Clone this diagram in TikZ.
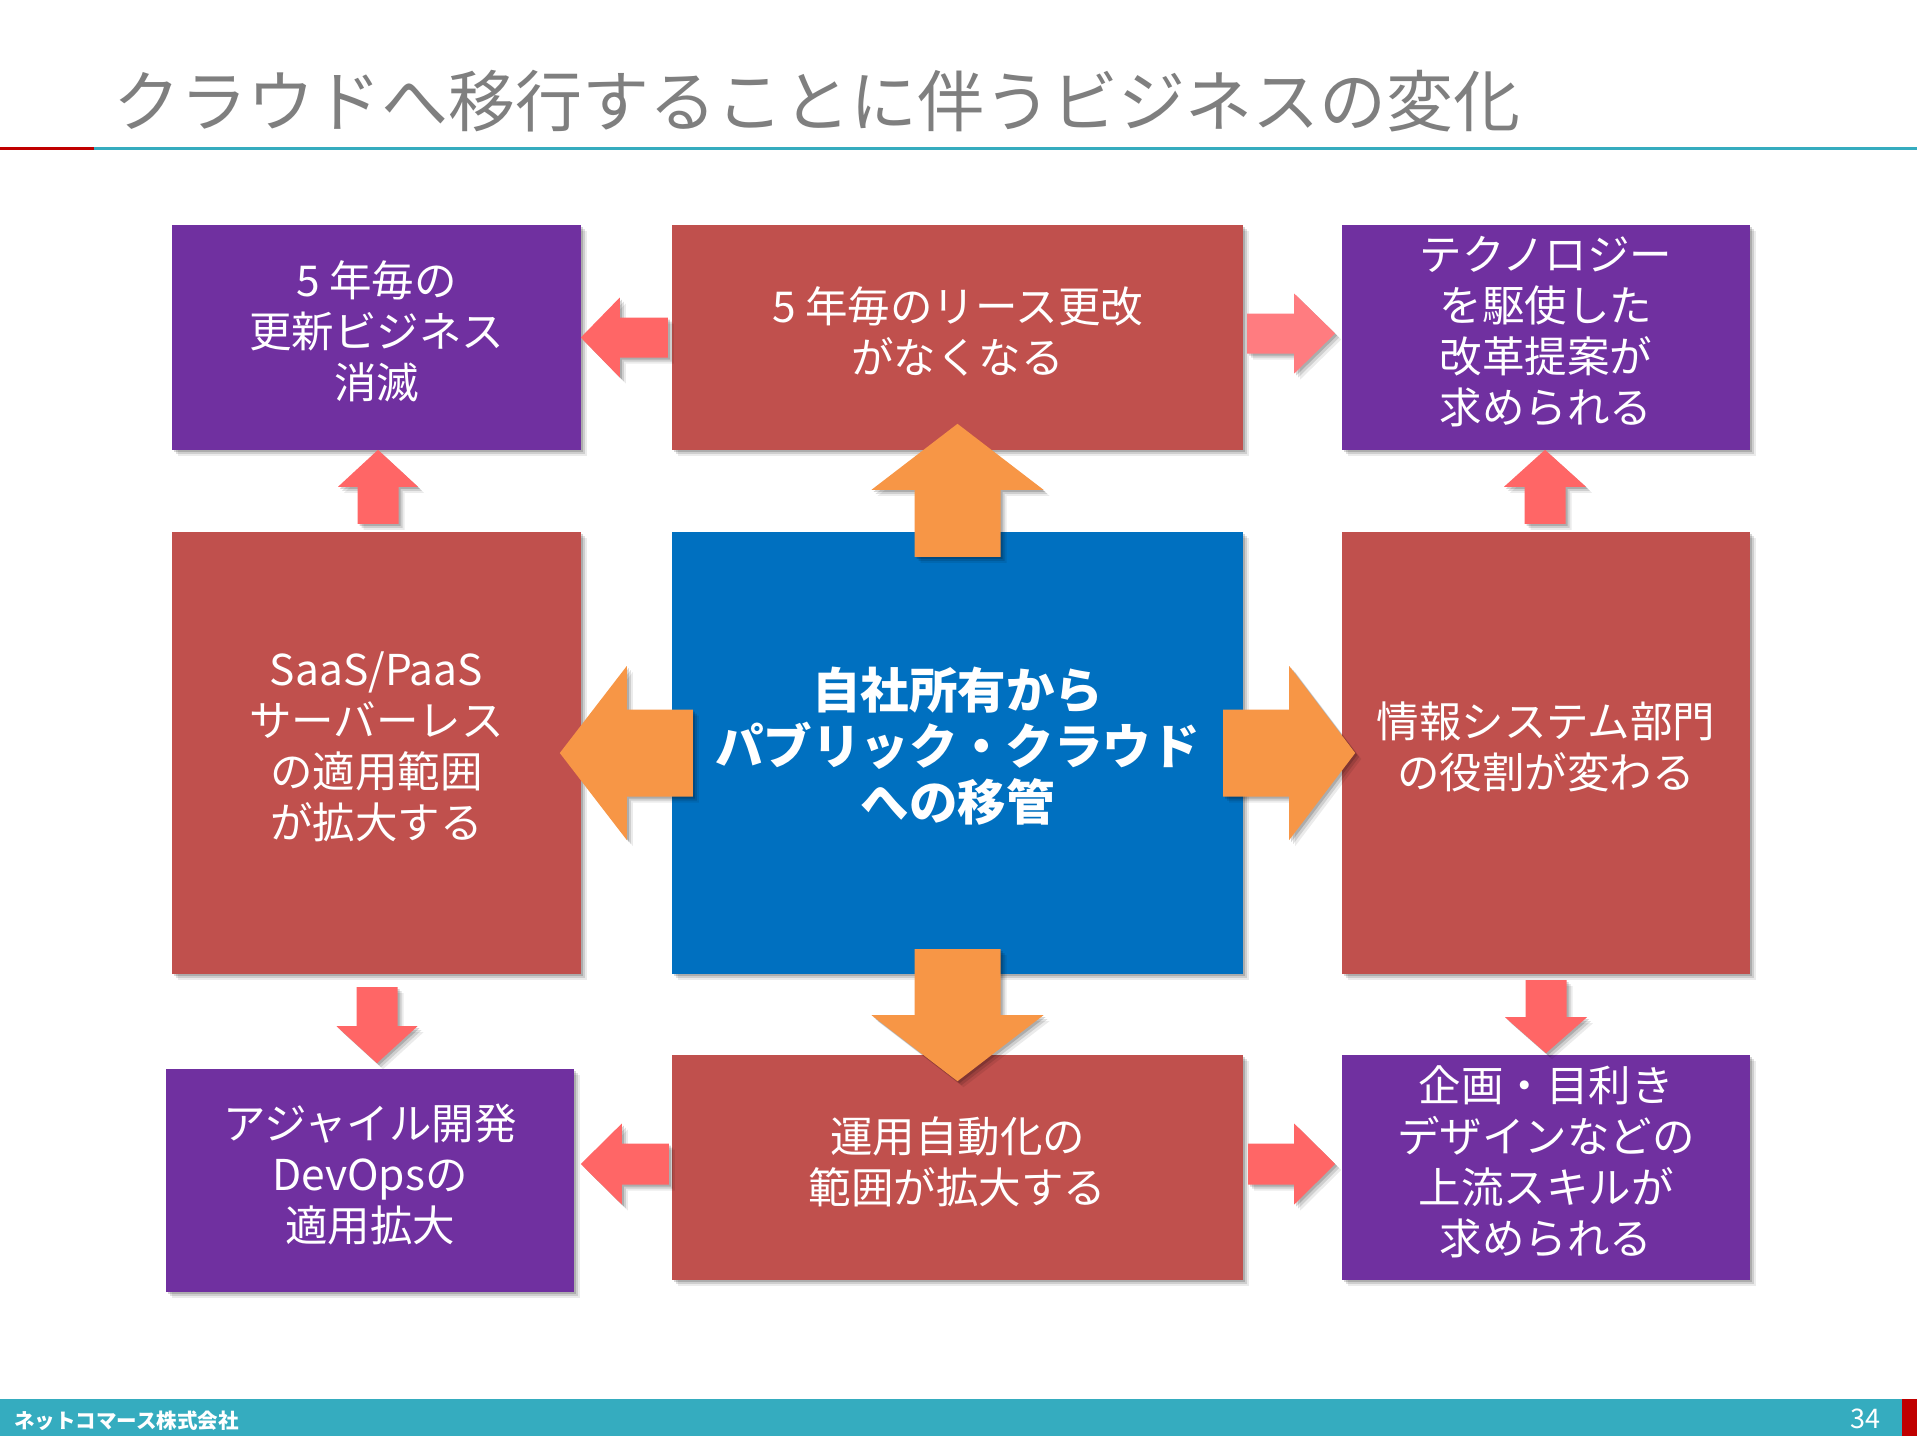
\documentclass[tikz,border=0pt]{standalone}
\usepackage{fontspec}
\setmainfont{Noto Sans CJK JP}
\usetikzlibrary{shadows,calc}
\definecolor{cpurple}{HTML}{7030A0}
\definecolor{cred}{HTML}{C0504D}
\definecolor{cblue}{HTML}{0070C0}
\definecolor{corange}{HTML}{F79646}
\definecolor{clred}{HTML}{FF6666}
\definecolor{clredb}{HTML}{FF7C80}
\definecolor{cteal}{HTML}{35ACBF}
\definecolor{ctitle}{HTML}{7F7F7F}
\definecolor{cdark}{HTML}{C00000}
\tikzset{
  shad/.style={drop shadow={shadow xshift=2pt,shadow yshift=-2pt,opacity=.16,fill=black},
               drop shadow={shadow xshift=4pt,shadow yshift=-4pt,opacity=.12,fill=black},
               drop shadow={shadow xshift=6pt,shadow yshift=-6pt,opacity=.08,fill=black}},
  box/.style={shad, rectangle, inner sep=0pt},
  wbox/.style={box, minimum width=571pt, minimum height=225pt},
  nbox/.style={box, minimum width=408pt, minimum height=225pt},
  tbox/.style={box, minimum width=408pt, minimum height=442pt},
  boxtext/.style={inner sep=0pt, text=white, align=center, font=\fontsize{42.5}{51}\selectfont},
  centertext/.style={boxtext, font=\fontsize{48.5}{56}\selectfont\bfseries},
}
% #1 style, #2 tail, #3 angle, #4 length, #5 head length, #6 shaft half, #7 head half
\newcommand\blockarrow[7]{%
  \fill[#1, shad, shift={(#2)}, rotate=#3]
    (0,{-#6}) -- ({#4-#5},{-#6}) -- ({#4-#5},{-#7}) -- (#4,0)
    -- ({#4-#5},#7) -- ({#4-#5},#6) -- (0,#6) -- cycle;}
\begin{document}
\begin{tikzpicture}[x=1pt,y=-1pt]
\useasboundingbox (0,0) rectangle (1917,1436);
\fill[white] (0,0) rectangle (1917,1436);
% title
\node[anchor=west, text=ctitle, inner sep=0pt, font=\fontsize{67}{67}\selectfont] (title) at (113,101)
  {クラウドへ移行することに伴うビジネスの変化};
\draw[cdark, line width=3pt] (0,148) -- (94,148);
\draw[cteal, line width=3pt] (94,148) -- (1917,148);
% boxes
\node[nbox, fill=cpurple, minimum width=409pt] (tl) at (376.5,337.5) {};
\node[wbox, fill=cred] (tm) at (957.5,337.5) {};
\node[nbox, fill=cpurple] (tr) at (1546,337.5) {};
\node[tbox, fill=cred, minimum width=409pt] (ml) at (376.5,753) {};
\node[tbox, fill=cblue, minimum width=571pt] (c) at (957.5,753) {};
\node[tbox, fill=cred] (mr) at (1546,753) {};
\node[nbox, fill=cpurple, minimum height=223pt] (bl) at (370,1180.5) {};
\node[wbox, fill=cred] (bm) at (957.5,1167.5) {};
\node[nbox, fill=cpurple] (br) at (1546,1167.5) {};
% box texts
\node[boxtext] (tlt) at ($(tl.center)+(0,-6)$) {5 年毎の\\更新ビジネス\\消滅};
\node[boxtext] (tmt) at ($(tm.center)+(0,-6)$) {5 年毎のリース更改\\がなくなる};
\node[boxtext] (trt) at ($(tr.center)+(0,-6)$) {テクノロジー\\を駆使した\\改革提案が\\求められる};
\node[boxtext] (mlt) at ($(ml.center)+(0,-6)$) {SaaS/PaaS\\サーバーレス\\の適用範囲\\が拡大する};
\node[centertext] (ct) at ($(c.center)+(0,-7)$) {自社所有から\\パブリック・クラウド\\への移管};
\node[boxtext] (mrt) at ($(mr.center)+(0,-6)$) {情報システム部門\\の役割が変わる};
\node[boxtext] (blt) at ($(bl.center)+(0,-6)$) {アジャイル開発\\DevOpsの\\適用拡大};
\node[boxtext] (bmt) at ($(bm.center)+(0,-6)$) {運用自動化の\\範囲が拡大する};
\node[boxtext] (brt) at ($(br.center)+(0,-6)$) {企画・目利き\\デザインなどの\\上流スキルが\\求められる};
% orange arrows from centre
\blockarrow{corange}{$(c.north)+(0,25)$}{90}{133}{66}{43}{86}
\blockarrow{corange}{$(c.south)+(0,-25)$}{270}{132}{66}{43}{86}
\blockarrow{corange}{$(c.west)+(21,0)$}{180}{133}{67}{43.5}{87}
\blockarrow{corange}{$(c.east)+(-20,0)$}{0}{132}{66}{43.5}{87}
% small red arrows
\blockarrow{clred}{$(tm.west)+(-4,0)$}{180}{87}{39}{20}{40}
\blockarrow{clredb}{$(tm.east)+(4,-4)$}{0}{88}{41}{20}{40}
\blockarrow{clred}{$(ml.north)+(1.5,-8)$}{90}{74}{37}{20.5}{40}
\blockarrow{clred}{$(ml.south)+(0.5,13)$}{270}{76}{37}{20.5}{40.5}
\blockarrow{clred}{$(mr.north)+(-1,-8)$}{90}{74}{37}{20.5}{41}
\blockarrow{clred}{$(mr.south)+(0,6)$}{270}{73}{36}{20.5}{41}
\blockarrow{clred}{$(bm.west)+(-3,-3.5)$}{180}{88}{41}{20.5}{40.5}
\blockarrow{clred}{$(bm.east)+(5,-3.5)$}{0}{87}{41}{20.5}{40.5}
% footer
\fill[cteal] (0,1399) rectangle (1917,1436);
\fill[cdark] (1902,1399) rectangle (1917,1436);
\node[anchor=west, text=white, inner sep=0pt, font=\fontsize{20.5}{20.5}\selectfont\bfseries] (company) at (14,1421) {ネットコマース株式会社};
\node[anchor=east, text=white, inner sep=0pt, font=\fontsize{27}{27}\selectfont] (page) at (1881,1419) {34};
\end{tikzpicture}
\end{document}
